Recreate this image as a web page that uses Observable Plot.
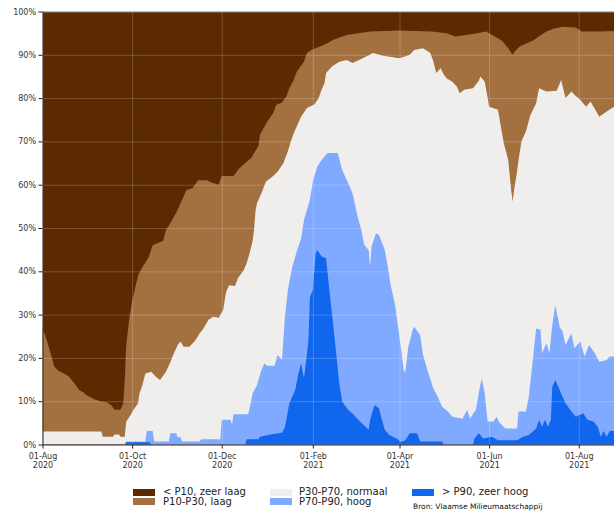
<!DOCTYPE html>
<html><head><meta charset="utf-8">
<script src="https://cdn.jsdelivr.net/npm/d3@7"></script>
<script src="https://cdn.jsdelivr.net/npm/@observablehq/plot@0.6"></script>
<style>
body{margin:0;background:#fff;font-family:"DejaVu Sans",sans-serif;}
#wrap{position:relative;width:614px;height:512px;overflow:hidden;background:#fff;}
#chart{position:absolute;left:0;top:0;}
.sw{position:absolute;width:22px;height:7px;}
.lt{position:absolute;font-size:10px;line-height:10px;color:#222;white-space:nowrap;}
.src{position:absolute;font-size:7.5px;line-height:7.5px;color:#111;white-space:nowrap;}
</style></head><body><div id="wrap"><div id="chart"></div></div>
<script>
// Categories (legend order)
const categories = ["< P10, zeer laag", "P10-P30, laag", "P30-P70, normaal", "P70-P90, hoog", "> P90, zeer hoog"];
const sourceText = "Bron: Vlaamse Milieumaatschappij";
const xTickDates = ["2020-08-01","2020-10-01","2020-12-01","2021-02-01","2021-04-01","2021-06-01","2021-08-01"];
const yTickValues = [0,10,20,30,40,50,60,70,80,90,100];
const xDomainDates = ["2020-08-01","2021-08-25"];

// Cumulative share (%) of measuring points up to and including each class
// top of "P10-P30, laag" (everything above is "< P10, zeer laag")
const laagTop = [
["2020-08-01",27],["2020-08-04",24],["2020-08-07",20.5],["2020-08-09",18],["2020-08-12",17],["2020-08-15",16.5],
["2020-08-19",15.7],["2020-08-23",14],["2020-08-26",12.6],["2020-08-29",12],["2020-08-31",11.4],["2020-09-05",10.5],
["2020-09-09",10],["2020-09-14",9.7],["2020-09-17",9],["2020-09-19",8],["2020-09-23",8],["2020-09-25",9.5],
["2020-09-26",15],["2020-09-27",23],["2020-09-29",29],["2020-10-01",33],["2020-10-03",36],["2020-10-05",39],
["2020-10-08",41],["2020-10-12",43],["2020-10-15",46],["2020-10-18",46.5],["2020-10-22",47],["2020-10-24",49.5],
["2020-10-26",50.5],["2020-10-29",52.3],["2020-11-01",54.2],["2020-11-04",56.5],["2020-11-07",58.8],["2020-11-11",59.2],
["2020-11-15",61],["2020-11-21",61],["2020-11-24",60.5],["2020-11-29",60],["2020-12-01",62],["2020-12-09",62],
["2020-12-13",63.8],["2020-12-18",65.3],["2020-12-21",66.1],["2020-12-23",67.3],["2020-12-26",69],["2020-12-27",71.5],
["2020-12-30",73.4],["2021-01-01",74.6],["2021-01-05",76.5],["2021-01-07",78.4],["2021-01-11",79],["2021-01-14",80.4],
["2021-01-16",82.3],["2021-01-19",84.2],["2021-01-21",86],["2021-01-23",87],["2021-01-26",88.4],["2021-01-28",90.5],
["2021-01-31",91.1],["2021-02-05",91.8],["2021-02-10",92.5],["2021-02-15",93.5],["2021-02-24",94.6],["2021-03-04",95],
["2021-03-12",95.4],["2021-04-01",95.6],["2021-04-23",95.4],["2021-05-03",95],["2021-05-09",94.2],["2021-05-15",94.5],
["2021-05-21",94.8],["2021-05-30",95.4],["2021-06-03",94.6],["2021-06-07",93.8],["2021-06-10",93.2],["2021-06-14",91.5],
["2021-06-17",90],["2021-06-19",91],["2021-06-22",92],["2021-07-01",93.3],["2021-07-06",94.5],["2021-07-10",95.4],
["2021-07-15",96],["2021-07-21",96.5],["2021-07-30",96.3],["2021-08-03",95.4],["2021-08-15",95.4],["2021-08-25",95.5]
];
// top of "P30-P70, normaal"
const normaalTop = [
["2020-08-01",3],["2020-09-10",3],["2020-09-11",1.8],["2020-09-18",1.8],["2020-09-19",2.3],["2020-09-22",2.3],
["2020-09-23",1.8],["2020-09-26",1.8],["2020-09-27",5.3],["2020-09-30",6.8],["2020-10-02",8],["2020-10-05",9.5],
["2020-10-06",11.8],["2020-10-08",13.7],["2020-10-10",16.4],["2020-10-14",16.8],["2020-10-17",15.7],["2020-10-20",14.9],
["2020-10-24",16.8],["2020-10-27",19],["2020-10-29",20.7],["2020-11-01",23],["2020-11-03",23.8],["2020-11-05",22.6],
["2020-11-09",22.6],["2020-11-13",24],["2020-11-16",25.7],["2020-11-18",26.5],["2020-11-22",28.8],["2020-11-25",29.5],
["2020-11-29",29.3],["2020-12-02",31.1],["2020-12-04",35.3],["2020-12-06",36.8],["2020-12-10",36.6],["2020-12-12",38.4],
["2020-12-16",40.3],["2020-12-18",41.9],["2020-12-20",44.2],["2020-12-22",47],["2020-12-23",49.6],["2020-12-24",54],
["2020-12-25",55.7],["2020-12-28",58],["2020-12-31",60.7],["2021-01-05",62],["2021-01-08",63],["2021-01-12",65],
["2021-01-15",67.7],["2021-01-17",70],["2021-01-19",71.9],["2021-01-21",73.4],["2021-01-24",75.7],["2021-01-28",77.7],
["2021-02-02",78.5],["2021-02-05",80],["2021-02-07",82],["2021-02-09",83.5],["2021-02-10",85.8],["2021-02-14",87.3],
["2021-02-19",88.4],["2021-02-24",88.8],["2021-02-28",88.1],["2021-03-07",89.2],["2021-03-14",90.4],["2021-03-21",89.8],
["2021-04-01",89.2],["2021-04-08",90],["2021-04-11",91.1],["2021-04-17",91.5],["2021-04-22",90.4],["2021-04-24",88.5],
["2021-04-26",85.8],["2021-04-29",86.9],["2021-05-01",85.5],["2021-05-03",84.6],["2021-05-07",83.8],["2021-05-10",82.7],
["2021-05-12",81.1],["2021-05-15",81.9],["2021-05-21",82.3],["2021-05-25",84],["2021-05-26",85],["2021-05-29",83.8],
["2021-05-31",80],["2021-06-01",78],["2021-06-07",77.3],["2021-06-09",73.4],["2021-06-11",69.6],["2021-06-14",65.7],
["2021-06-16",58.8],["2021-06-17",56.1],["2021-06-18",58.8],["2021-06-20",63],["2021-06-21",65.7],["2021-06-23",70],
["2021-06-26",72.3],["2021-06-29",76],["2021-07-03",78.8],["2021-07-05",82.3],["2021-07-10",81.5],["2021-07-17",81.7],
["2021-07-20",84.2],["2021-07-23",80],["2021-07-27",81.5],["2021-07-30",80.5],["2021-08-02",79.6],["2021-08-06",78],
["2021-08-09",79.2],["2021-08-12",77.5],["2021-08-15",75.7],["2021-08-20",76.9],["2021-08-25",78]
];
// top of "P70-P90, hoog"
const hoogTop = [
["2020-08-01",0],["2020-09-26",0],["2020-09-27",0.7],["2020-10-10",0.7],["2020-10-11",3.1],["2020-10-15",3.1],
["2020-10-16",0.7],["2020-10-26",0.7],["2020-10-27",2.6],["2020-10-31",2.6],["2020-11-01",1.7],["2020-11-03",1.7],
["2020-11-04",0.7],["2020-11-16",0.7],["2020-11-17",1.2],["2020-11-30",1.2],["2020-12-01",5.7],["2020-12-07",5.7],
["2020-12-08",4.6],["2020-12-09",7],["2020-12-19",7],["2020-12-21",10],["2020-12-22",11.8],["2020-12-25",13.7],
["2020-12-28",17.2],["2020-12-30",18.7],["2021-01-01",18.2],["2021-01-06",18.2],["2021-01-08",20.7],["2021-01-11",19.5],
["2021-01-13",29.5],["2021-01-15",35.7],["2021-01-18",41],["2021-01-21",44.5],["2021-01-24",47.6],["2021-01-26",51.9],
["2021-01-30",56.5],["2021-02-01",60.7],["2021-02-04",64.2],["2021-02-07",65.7],["2021-02-11",67.3],["2021-02-18",67.3],
["2021-02-21",63.4],["2021-02-25",60.4],["2021-02-28",58],["2021-03-04",51.9],["2021-03-06",49.6],["2021-03-08",46.1],
["2021-03-11",44.9],["2021-03-12",41.1],["2021-03-13",45.7],["2021-03-16",48.8],["2021-03-18",48.4],["2021-03-22",44.9],
["2021-03-24",41.1],["2021-03-26",36.8],["2021-03-29",32.2],["2021-03-31",27.2],["2021-04-02",22.2],["2021-04-04",16.8],
["2021-04-05",17],["2021-04-07",22.6],["2021-04-10",26.5],["2021-04-11",27.2],["2021-04-15",25.3],["2021-04-17",20.7],
["2021-04-20",17.2],["2021-04-24",13],["2021-04-27",11],["2021-04-30",8.7],["2021-05-04",7.6],["2021-05-07",6.4],
["2021-05-14",6],["2021-05-17",8],["2021-05-19",6],["2021-05-23",8],["2021-05-25",12],["2021-05-27",15.3],
["2021-05-29",11.8],["2021-05-31",5.3],["2021-06-04",5.3],["2021-06-06",6.4],["2021-06-08",5.1],["2021-06-12",3.7],
["2021-06-20",3.7],["2021-06-21",7.6],["2021-06-26",7.6],["2021-06-28",11],["2021-07-01",20.3],["2021-07-03",26.8],
["2021-07-06",26.5],["2021-07-07",21.1],["2021-07-10",23.4],["2021-07-12",21.1],["2021-07-14",27.6],["2021-07-16",32.2],
["2021-07-19",27.2],["2021-07-21",26.1],["2021-07-23",23],["2021-07-27",25.7],["2021-07-29",22.2],["2021-08-02",23.8],
["2021-08-05",20.3],["2021-08-08",23],["2021-08-12",21.1],["2021-08-15",19.1],["2021-08-20",19.5],["2021-08-22",20.3],
["2021-08-25",20.3]
];
// top of "> P90, zeer hoog"
const zeerHoogTop = [
["2020-08-01",0],["2020-09-26",0],["2020-09-27",0.5],["2020-10-13",0.5],["2020-10-14",0],["2020-12-17",0],
["2020-12-18",1.2],["2020-12-26",1.2],["2020-12-27",1.8],["2021-01-03",2.3],["2021-01-11",2.7],["2021-01-13",4],
["2021-01-14",5.7],["2021-01-16",9.5],["2021-01-20",12.6],["2021-01-22",16.1],["2021-01-24",18.8],["2021-01-25",17],
["2021-01-26",15.3],["2021-01-28",21],["2021-01-29",24],["2021-01-30",34],["2021-02-01",35.7],["2021-02-03",44.2],
["2021-02-04",44.9],["2021-02-07",43.4],["2021-02-10",43],["2021-02-12",36.5],["2021-02-15",27.2],["2021-02-17",20.7],
["2021-02-19",14.1],["2021-02-21",9.9],["2021-02-25",8],["2021-03-01",6.8],["2021-03-05",5.3],["2021-03-09",4.1],
["2021-03-11",3.4],["2021-03-12",5.7],["2021-03-15",9.1],["2021-03-18",8.4],["2021-03-20",5.7],["2021-03-22",3.4],
["2021-03-25",2.2],["2021-03-30",1.4],["2021-04-02",0.6],["2021-04-05",1],["2021-04-08",2.6],["2021-04-13",2.6],
["2021-04-15",0.7],["2021-04-30",0.7],["2021-05-01",0],["2021-05-21",0],["2021-05-22",1.4],["2021-05-25",2.6],
["2021-05-28",1.4],["2021-06-03",1.8],["2021-06-07",1],["2021-06-20",1],["2021-06-24",1.8],["2021-06-28",2.2],
["2021-07-03",3.7],["2021-07-05",5.7],["2021-07-07",4.1],["2021-07-09",5.7],["2021-07-11",4.1],["2021-07-13",5.7],
["2021-07-14",13.4],["2021-07-16",14.9],["2021-07-18",13.4],["2021-07-21",11],["2021-07-23",9.5],["2021-07-27",7.6],
["2021-07-30",6.4],["2021-08-04",7.2],["2021-08-07",5.7],["2021-08-11",5.3],["2021-08-14",4.1],["2021-08-16",1.8],
["2021-08-18",3.1],["2021-08-20",1.8],["2021-08-22",3.1],["2021-08-25",3.1]
];

const colors = ["#5c2a00", "#a3703f", "#f0eeed", "#80aaff", "#1166ee"];

const parse = d3.utcParse("%Y-%m-%d");
const rows = arr => arr.map(([d, v]) => ({date: parse(d), value: v}));
const xDomain = xDomainDates.map(parse);
const xTicks = xTickDates.map(parse);
const fmtDay = d3.utcFormat("%d-%b"), fmtYear = d3.utcFormat("%Y");

const chart = Plot.plot({
  width: 614, height: 475,
  marginLeft: 42.5, marginRight: 0, marginTop: 11.5, marginBottom: 30.5,
  style: {fontFamily: "'DejaVu Sans', sans-serif", fontSize: "8px", color: "#333", background: "transparent", overflow: "visible"},
  x: {type: "utc", domain: xDomain},
  y: {domain: [0, 100]},
  marks: [
    Plot.frame({fill: colors[0], stroke: null}),
    Plot.areaY(rows(laagTop), {x: "date", y: "value", fill: colors[1]}),
    Plot.areaY(rows(normaalTop), {x: "date", y: "value", fill: colors[2]}),
    Plot.areaY(rows(hoogTop), {x: "date", y: "value", fill: colors[3]}),
    Plot.areaY(rows(zeerHoogTop), {x: "date", y: "value", fill: colors[4]}),
    Plot.ruleY(yTickValues, {stroke: "#ffffff", strokeOpacity: 0.2}),
    Plot.ruleX(xTicks, {stroke: "#ffffff", strokeOpacity: 0.2}),
    Plot.ruleY([100], {stroke: "#777"}),
    Plot.ruleY([0], {stroke: "#222"}),
    Plot.ruleX([xDomain[0]], {stroke: "#222"}),
    Plot.axisY({ticks: yTickValues, tickFormat: d => d + "%", tickSize: 4, tickPadding: 3, label: null, stroke: "#222"}),
    Plot.axisX({ticks: xTicks, tickFormat: d => fmtDay(d) + "\n" + fmtYear(d), tickSize: 4, tickPadding: 3, label: null, lineHeight: 1.15, stroke: "#222"})
  ]
});
document.getElementById("chart").appendChild(chart);

// Legend below the chart
const wrap = document.getElementById("wrap");
const legendCols = [[133, 163], [270, 299], [412, 442]];
const legendRows = [[488.5, 487], [498.3, 496.5]];
categories.forEach((name, i) => {
  const c = legendCols[Math.floor(i / 2)], r = legendRows[i % 2];
  const sw = document.createElement("div");
  sw.className = "sw"; sw.style.left = c[0] + "px"; sw.style.top = r[0] + "px"; sw.style.background = colors[i];
  wrap.appendChild(sw);
  const t = document.createElement("div");
  t.className = "lt"; t.style.left = c[1] + "px"; t.style.top = r[1] + "px"; t.textContent = name;
  wrap.appendChild(t);
});
const src = document.createElement("div");
src.className = "src"; src.style.left = "413px"; src.style.top = "503px"; src.textContent = sourceText;
wrap.appendChild(src);
</script>
</body></html>
